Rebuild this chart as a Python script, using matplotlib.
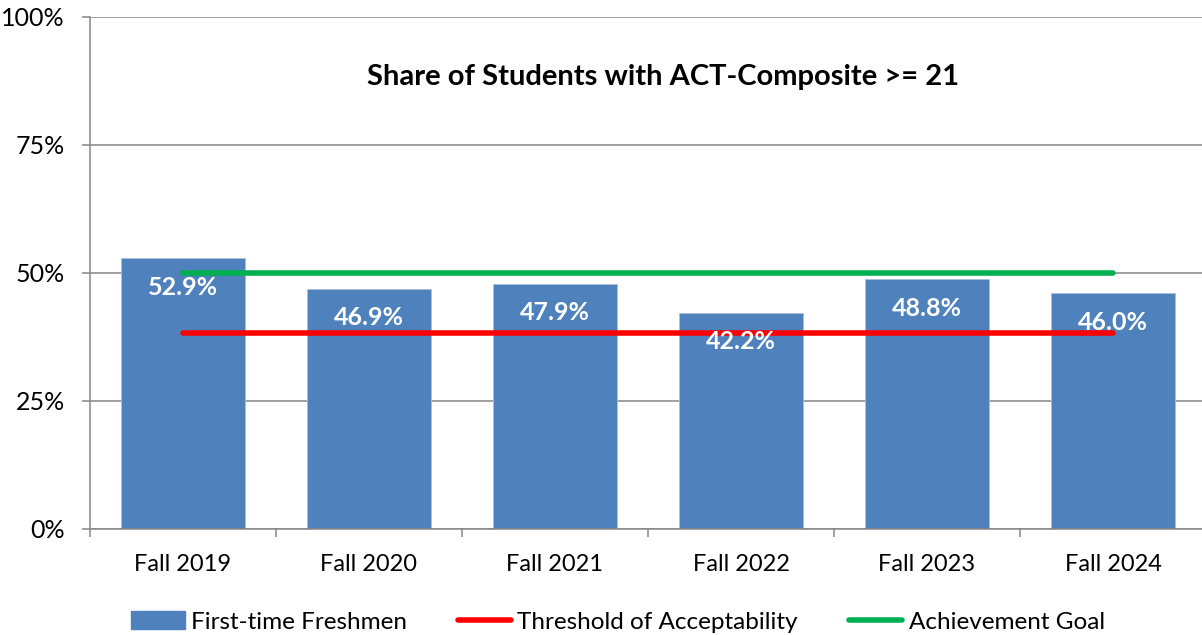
import matplotlib
matplotlib.use("Agg")
import matplotlib.pyplot as plt
from matplotlib.patches import Patch
from matplotlib.lines import Line2D
import numpy as np

categories = ["Fall 2019", "Fall 2020", "Fall 2021", "Fall 2022", "Fall 2023", "Fall 2024"]
freshmen = [52.9, 46.9, 47.9, 42.2, 48.8, 46.0]
threshold = [38.2] * 6
goal = [50.0] * 6
yticks = [0, 25, 50, 75, 100]
ytick_labels = ["0%", "25%", "50%", "75%", "100%"]

plt.rcParams['font.family'] = ['Lato', 'DejaVu Sans']

W, H = 1202, 635
fig = plt.figure(figsize=(W / 100, H / 100), dpi=100)
ax = fig.add_axes([90 / W, 1 - 529 / H, (1206 - 90) / W, (529 - 17) / H])

x = np.arange(len(categories))
grid_c = "#868686"
ax.set_xlim(-0.5, len(categories) - 0.5)
ax.set_ylim(0, 100)
ax.set_yticks(yticks)
ax.set_yticklabels(ytick_labels, fontsize=18)
for y in yticks:
    ax.axhline(y, color=grid_c, lw=1.1, zorder=0)

ax.bar(x, freshmen, width=0.665, color="#4F81BD", edgecolor="#A9C0DE", linewidth=0.6, zorder=2)
ax.plot(x, threshold, color="#FF0000", lw=4, solid_capstyle="round", zorder=3)
ax.plot(x, goal, color="#00B050", lw=4, solid_capstyle="round", zorder=3)

for xi, v in zip(x, freshmen):
    ax.annotate(f"{v:.1f}%", (xi, v), xytext=(0, -29), textcoords="offset pixels",
                ha="center", va="center", color="white", fontsize=18, fontweight="bold", zorder=4)

ax.set_xticks(x)
ax.set_xticklabels(categories, fontsize=17)
ax.tick_params(axis="x", which="major", length=0, pad=18)
ax.set_xticks(np.arange(-0.5, len(categories), 1.0), minor=True)
ax.tick_params(axis="x", which="minor", length=6, color=grid_c, width=1.1)
ax.tick_params(axis="y", length=6, color=grid_c, width=1.1, pad=12)

for s in ["top", "right"]:
    ax.spines[s].set_visible(False)
for s in ["left", "bottom"]:
    ax.spines[s].set_color(grid_c)
    ax.spines[s].set_linewidth(1.1)

fig.text(663 / W, 1 - 77 / H, "Share of Students with ACT-Composite >= 21",
         ha="center", va="center", fontsize=21, fontweight="bold")

handles = [Patch(facecolor="#4F81BD", edgecolor="#4F81BD"),
           Line2D([0], [0], color="#FF0000", lw=4, solid_capstyle="round"),
           Line2D([0], [0], color="#00B050", lw=4, solid_capstyle="round")]
labels = ["First-time Freshmen", "Threshold of Acceptability", "Achievement Goal"]
fig.legend(handles, labels, loc="center", bbox_to_anchor=(618 / W, 1 - 622 / H), ncol=3,
           frameon=False, fontsize=17.5, handlelength=2.2, handletextpad=0.25,
           columnspacing=2.1, borderpad=0)

fig.savefig("out.png", dpi=100)
